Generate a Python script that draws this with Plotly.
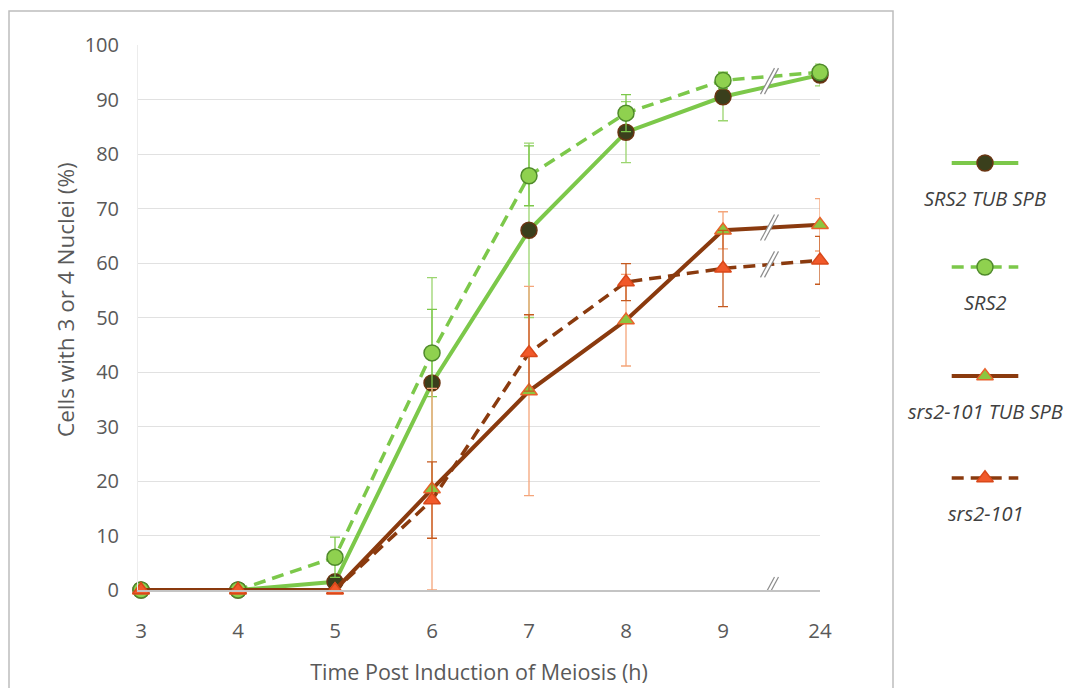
import plotly.graph_objects as go

# Sampling times (h) after induction of meiosis
hours = ["3", "4", "5", "6", "7", "8", "9", "24"]

# % of cells with 3 or 4 nuclei, with error bar half-lengths
srs2_tub = [0, 0, 1.5, 38, 66, 84, 90.5, 94.5]
srs2_tub_err = [None, None, 1, 19.3, 16, 5.6, 4.4, 2]

srs2 = [0, 0, 6, 43.5, 76, 87.5, 93.5, 95]
srs2_err = [None, None, 3.7, 8, 5.5, 3.4, 1.5, 1]

srs2_101_tub = [0, 0, 0, 18.5, 36.5, 49.5, 66, 67]
srs2_101_tub_err = [None, None, None, 18.5, 19.2, 8.4, 3.4, 4.8]

srs2_101 = [0, 0, 0, 16.5, 43.5, 56.5, 59, 60.5]
srs2_101_err = [None, None, None, 7, 7, 3.4, 7, 4.4]

names = ["SRS2 TUB SPB", "SRS2", "srs2-101 TUB SPB", "srs2-101"]

GREEN = "#7cc84a"
BROWN = "#8a3a0e"
FONT = "Open Sans"
TICK_COLOR = "#595959"

# series styles: line colour, dash, marker symbol, fill, outline, error colour
styles = [
    dict(line=GREEN, dash="solid", symbol="circle", fill="#3a3f1c", edge="#6a3512", err="#9bd56f"),
    dict(line=GREEN, dash="12px,7px", symbol="circle", fill="#8fd14f", edge="#4f8a2b", err="#7cc84a"),
    dict(line=BROWN, dash="solid", symbol="triangle-up", fill="#8cc63f", edge="#e8632c", err="#f4a57a"),
    dict(line=BROWN, dash="12px,7px", symbol="triangle-up", fill="#f1592a", edge="#d9481a", err="#c55a1f"),
]
values = [srs2_tub, srs2, srs2_101_tub, srs2_101]
errors = [srs2_tub_err, srs2_err, srs2_101_tub_err, srs2_101_err]

pos = list(range(len(hours)))


def line_style(st):
    return dict(color=st["line"], width=4 if st["dash"] == "solid" else 3.5, dash=st["dash"])


def marker_style(st):
    return dict(symbol=st["symbol"], size=16 if st["symbol"] == "circle" else 14.5,
                color=st["fill"], opacity=1, line=dict(color=st["edge"], width=1.5))


fig = go.Figure()
for name, vals, errs, st in zip(names, values, errors, styles):
    fig.add_trace(go.Scatter(
        x=pos, y=vals, name=name, mode="lines+markers",
        line=line_style(st), marker=marker_style(st),
        error_y=dict(type="data", array=errs, visible=True, color=st["err"],
                     thickness=1.3, width=5),
        cliponaxis=False, showlegend=False,
    ))

# Legend drawn in a side panel: sample line with a centred marker, label below
leg_rows = [118, 222, 331, 433]
for name, st, row in zip(names, styles, leg_rows):
    fig.add_trace(go.Scatter(
        x=[0.13, 0.87], y=[row, row], mode="lines", line=line_style(st),
        xaxis="x2", yaxis="y2", showlegend=False, hoverinfo="skip", cliponaxis=False,
    ))
    fig.add_trace(go.Scatter(
        x=[0.5], y=[row], mode="markers", marker=marker_style(st),
        xaxis="x2", yaxis="y2", showlegend=False, hoverinfo="skip", cliponaxis=False,
    ))
    fig.add_annotation(x=0.5, y=row + 35, xref="x2", yref="y2", text=f"<i>{name}</i>",
                       showarrow=False, font=dict(family=FONT, size=20, color="#404040"))

# Axis-break marks between 9 h and 24 h
brk_x = (pos[-2] + pos[-1]) / 2
green_mid = (srs2_tub[-2] + srs2_tub[-1] + srs2[-2] + srs2[-1]) / 4
brk_y = [green_mid,
         (srs2_101_tub[-2] + srs2_101_tub[-1]) / 2,
         (srs2_101[-2] + srs2_101[-1]) / 2,
         0]
for by in brk_y:
    fig.add_shape(type="path", xref="x", yref="y", xsizemode="pixel", ysizemode="pixel",
                  xanchor=brk_x, yanchor=by,
                  path="M -11,-13 L 3,13 L 7,13 L -7,-13 Z",
                  fillcolor="white", line=dict(width=0), layer="above")
    for off in (-11, -7):
        fig.add_shape(type="line", xref="x", yref="y", xsizemode="pixel", ysizemode="pixel",
                      xanchor=brk_x, yanchor=by, x0=off, y0=-13, x1=off + 14, y1=13,
                      line=dict(color="#8c8c8c", width=1.2), layer="above")

# Outer frame of the chart
L, T, W_PLOT, H_PLOT, BOTTOM = 138, 45, 923, 545, 590
fig.add_shape(type="rect", xref="paper", yref="paper",
              x0=(9 - L) / W_PLOT, x1=(893 - L) / W_PLOT,
              y0=(BOTTOM - 700) / H_PLOT, y1=(BOTTOM - 11) / H_PLOT,
              line=dict(color="#bdbdbd", width=1.5), fillcolor="rgba(0,0,0,0)", layer="below")

# Vertical axis title
fig.add_annotation(x=(65 - L) / W_PLOT, y=(BOTTOM - 300) / H_PLOT, xref="paper", yref="paper",
                   xanchor="center", yanchor="middle",
                   text="Cells with 3 or 4 Nuclei (%)", textangle=-90, showarrow=False,
                   font=dict(family=FONT, size=22.5, color=TICK_COLOR))

fig.update_layout(
    width=1071, height=688, autosize=False,
    margin=dict(l=138, r=10, t=45, b=98, autoexpand=False),
    paper_bgcolor="white", plot_bgcolor="white",
    font=dict(family=FONT, color=TICK_COLOR),
    xaxis=dict(
        domain=[0, 682 / 923], range=[-0.031, 7.0], automargin=False,
        tickvals=pos, ticktext=hours, tickfont=dict(size=20.5, color=TICK_COLOR),
        showgrid=False, zeroline=False, showline=True, linecolor="#c4c4c4", linewidth=1.5,
        ticks="", ticklabelstandoff=22,
        title=dict(text="Time Post Induction of Meiosis (h)", font=dict(size=21.5, color=TICK_COLOR),
                   standoff=22),
    ),
    yaxis=dict(
        range=[0, 100], tick0=0, dtick=10, tickfont=dict(size=20, color=TICK_COLOR),
        automargin=False,
        showgrid=True, gridcolor="#e1e1e1", gridwidth=1, zeroline=False,
        showline=True, linecolor="#ececec", linewidth=1, ticks="", ticklabelstandoff=14,
    ),
    xaxis2=dict(domain=[(940 - L) / W_PLOT, (1030 - L) / W_PLOT], range=[0, 1], anchor="y2",
                visible=False, fixedrange=True, automargin=False),
    yaxis2=dict(domain=[0, 1], range=[545, 0], anchor="x2", visible=False, fixedrange=True,
                automargin=False),
)

fig.write_html("out.html")
